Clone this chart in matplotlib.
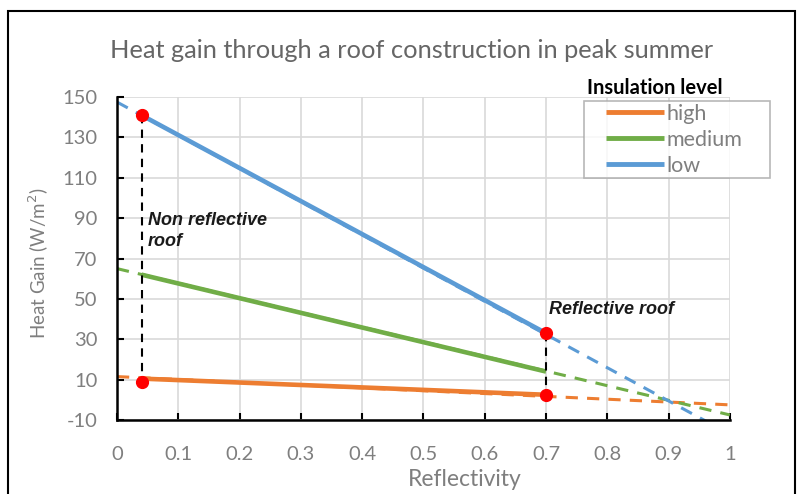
import matplotlib
matplotlib.use("Agg")
import matplotlib.pyplot as plt
from matplotlib.patches import Rectangle
from matplotlib.legend_handler import HandlerLine2D

plt.rcParams['font.family'] = ['Lato', 'DejaVu Sans']
plt.rcParams['axes.unicode_minus'] = False

# measured points (reflectivity of the roof vs heat gain)
refl = [0.04, 0.7]
high = [10.5, 2.5]
medium = [62, 14]
low = [141, 33]

# linear trend lines read at the ends of the axis
trend_x = [0, 1]
trend_high = [11.5, -2.5]
trend_medium = [65, -7.5]
trend_low = [147.5, -17]

# red markers and the vertical drop lines
mark_x = [0.04, 0.04, 0.7, 0.7]
mark_y = [141, 9, 33, 2.5]

orange = "#ED7D31"
green = "#70AD47"
blue = "#5B9BD5"
grey = "#7F7F7F"


class ShiftedLine(HandlerLine2D):
    # leave a gap before the legend line like the original
    def get_xdata(self, legend, xdescent, ydescent, width, height, fontsize):
        x = [width * 0.25 - xdescent, width - xdescent]
        return x, x


fig = plt.figure(figsize=(7.98, 4.94), dpi=100)
ax = fig.add_axes([0.1466, 0.1498, 0.768, 0.6538])

# outer chart frame
fig.patches.append(Rectangle((8 / 798, -0.1), 787 / 798, 1.1 - 11 / 494,
                             transform=fig.transFigure, fill=False,
                             edgecolor="black", linewidth=1.5, zorder=0))

dash = (0, (4, 3))
ax.plot(trend_x, trend_high, color=orange, lw=2.2, ls=dash, zorder=2)
ax.plot(trend_x, trend_medium, color=green, lw=2.2, ls=dash, zorder=2)
ax.plot(trend_x, trend_low, color=blue, lw=2.2, ls=dash, zorder=2)

ax.plot(refl, high, color=orange, lw=3.3, label="high", zorder=3, solid_capstyle="butt")
ax.plot(refl, medium, color=green, lw=3.3, label="medium", zorder=3, solid_capstyle="butt")
ax.plot(refl, low, color=blue, lw=3.3, label="low", zorder=3, solid_capstyle="butt")

ax.plot([mark_x[0], mark_x[1]], [mark_y[0], mark_y[1]], color="black", lw=1.5,
        ls=(0, (4, 3)), zorder=4)
ax.plot([mark_x[2], mark_x[3]], [mark_y[2], mark_y[3]], color="black", lw=1.5,
        ls=(0, (4, 3)), zorder=4)
ax.plot(mark_x, mark_y, "o", color="red", markersize=8.5, zorder=5)

ax.text(0.05, 83.5, "Non reflective\nroof", fontsize=13, fontweight="bold",
        fontstyle="italic", family="Liberation Sans", color="#1a1a1a",
        va="center", ha="left", linespacing=1.3)
ax.text(0.705, 44.5, "Reflective roof", fontsize=13, fontweight="bold",
        fontstyle="italic", family="Liberation Sans", color="#1a1a1a",
        va="center", ha="left")

ax.set_xlim(0, 1)
ax.set_ylim(-10, 150)
ax.set_xticks([i / 10 for i in range(11)])
ax.set_xticklabels(["0", "0.1", "0.2", "0.3", "0.4", "0.5", "0.6", "0.7", "0.8", "0.9", "1"])
ax.set_yticks(range(-10, 151, 20))
ax.grid(True, color="#D9D9D9", lw=1.2)
ax.set_axisbelow(True)
for s in ["top", "right"]:
    ax.spines[s].set_visible(False)
for s in ["left", "bottom"]:
    ax.spines[s].set_linewidth(1.8)
ax.tick_params(direction="in", length=5, width=1.5, labelsize=14.5,
               labelcolor=grey)
ax.tick_params(axis="x", pad=19)
ax.tick_params(axis="y", pad=14)

ax.set_xlabel("Reflectivity", fontsize=16.5, color=grey)
ax.xaxis.set_label_coords(0.567, -0.151)
ax.set_ylabel("Heat Gain (W/m$^2$)", fontsize=13.5, color=grey)
ax.yaxis.set_label_coords(-0.108, 0.485)
fig.text(0.516, 0.898, "Heat gain through a roof construction in peak summer",
         fontsize=18.3, color="#666666", ha="center", va="center")

leg = ax.legend(loc="upper left",
                bbox_to_anchor=(584 / 798, 1 - 180 / 494, 186 / 798, 79 / 494),
                bbox_transform=fig.transFigure, mode="expand",
                frameon=True, fancybox=False,
                edgecolor="#A6A6A6", fontsize=15.5, handlelength=3.6,
                handletextpad=0.1, borderpad=0.12, labelspacing=0.28,
                borderaxespad=0, handler_map={plt.Line2D: ShiftedLine()})
for t in leg.get_texts():
    t.set_color(grey)
for h in leg.get_lines():
    h.set_linewidth(3.5)
leg.get_frame().set_linewidth(1.2)
fig.text(587 / 798, 1 - 88 / 494, "Insulation level", fontsize=14.5,
         fontweight="bold", color="black", ha="left", va="center")

fig.savefig("out.png", dpi=100)
